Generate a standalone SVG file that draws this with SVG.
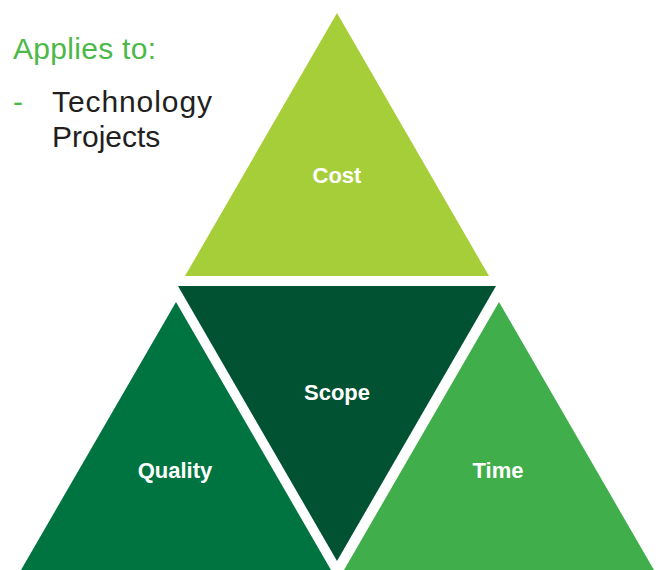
<svg xmlns="http://www.w3.org/2000/svg" width="660" height="570" viewBox="0 0 660 570">
<style>
.lbl{font-family:"Liberation Sans",Arial,sans-serif;font-size:22px;font-weight:bold;fill:#ffffff;text-anchor:middle}
.side{font-family:"Liberation Sans",Arial,sans-serif;font-size:30px}
</style>
<rect width="660" height="570" fill="#ffffff"/>
<g id="text-block">
<text class="side" x="13" y="59" fill="#4CB848" textLength="143">Applies to:</text>
<text class="side" x="13" y="112" fill="#4CB848">-</text>
<text class="side" x="52" y="112" fill="#231F20" textLength="160">Technology</text>
<text class="side" x="52" y="147" fill="#231F20">Projects</text>
</g>
<g id="cost">
<polygon points="337,13 489,276 185,276" fill="#A6CE39"/>
<text class="lbl" x="337" y="183">Cost</text>
</g>
<g id="scope">
<polygon points="178,286 496,286 337,561" fill="#005232"/>
<text class="lbl" x="337" y="400">Scope</text>
</g>
<g id="quality">
<polygon points="176,302 331,570 21,570" fill="#007440"/>
<text class="lbl" x="175" y="478">Quality</text>
</g>
<g id="time">
<polygon points="499,302 654,570 344,570" fill="#40AE4A"/>
<text class="lbl" x="498" y="478">Time</text>
</g>
<g id="connectors"/>
</svg>
